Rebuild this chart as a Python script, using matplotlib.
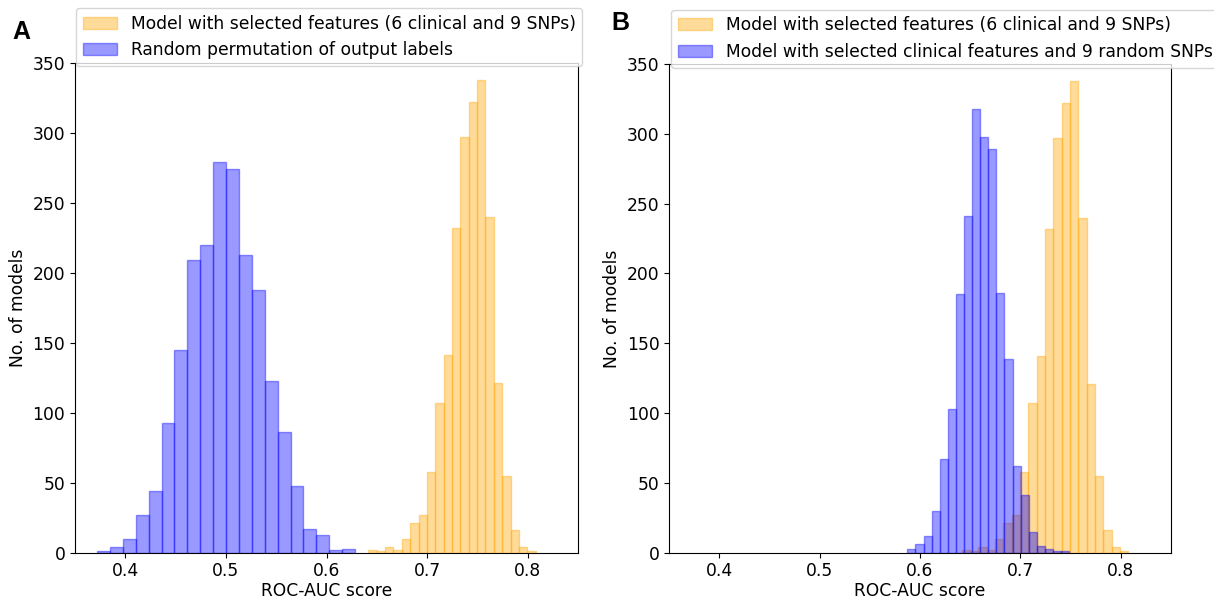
import numpy as np
import matplotlib
matplotlib.use("Agg")
import matplotlib.pyplot as plt

# counts per bin (20 bins each)
selected_counts = [2, 1, 4, 2, 10, 21, 27, 58, 107, 141,
                   232, 297, 322, 338, 240, 121, 55, 16, 4, 1]
selected_range = (0.6416, 0.8079)

permuted_counts = [1, 4, 10, 27, 44, 93, 145, 209, 220, 279,
                   274, 213, 188, 123, 86, 48, 17, 13, 2, 3]
permuted_range = (0.3719, 0.6284)

random_snp_counts = [3, 6, 12, 30, 67, 103, 185, 241, 318, 298,
                     289, 186, 139, 62, 41, 15, 5, 3, 1, 1]
random_snp_range = (0.5874, 0.7488)

label_sel = "Model with selected features (6 clinical and 9 SNPs)"
label_perm = "Random permutation of output labels"
label_rand = "Model with selected clinical features and 9 random SNPs"

plt.rcParams['font.family'] = ['DejaVu Sans']
plt.rcParams['font.size'] = 12.3


def draw_hist(ax, counts, rng, color, label):
    edges = np.linspace(rng[0], rng[1], len(counts) + 1)
    centers = (edges[:-1] + edges[1:]) / 2
    ax.hist(centers, bins=edges, weights=counts, color=color,
            edgecolor=color, alpha=0.4, linewidth=1, label=label)


fig = plt.figure(figsize=(12.14, 6.0), dpi=100)
ax1 = fig.add_axes([0.0618, 0.0788, 0.4143, 0.8167])
ax2 = fig.add_axes([0.5513, 0.0788, 0.4130, 0.8145])

draw_hist(ax1, selected_counts, selected_range, 'orange', label_sel)
draw_hist(ax1, permuted_counts, permuted_range, 'blue', label_perm)

draw_hist(ax2, selected_counts, selected_range, 'orange', label_sel)
draw_hist(ax2, random_snp_counts, random_snp_range, 'blue', label_rand)

for ax in (ax1, ax2):
    ax.set_xlim(0.35, 0.85)
    ax.set_ylim(0, 350)
    ax.set_xticks([0.4, 0.5, 0.6, 0.7, 0.8])
    ax.set_yticks(range(0, 351, 50))
    ax.set_xlabel("ROC-AUC score", labelpad=1)
    ax.set_ylabel("No. of models")

ax1.legend(loc='lower left', bbox_to_anchor=(0.0626, 0.89),
           bbox_transform=fig.transFigure, borderaxespad=0)
ax2.legend(loc='lower left', bbox_to_anchor=(0.553, 0.887),
           bbox_transform=fig.transFigure, borderaxespad=0)

fig.text(0.010, 0.935, "A", fontsize=18, fontweight='bold',
         family=['Liberation Sans', 'DejaVu Sans'])
fig.text(0.504, 0.95, "B", fontsize=18, fontweight='bold',
         family=['Liberation Sans', 'DejaVu Sans'])

fig.savefig("out.png", dpi=100)
